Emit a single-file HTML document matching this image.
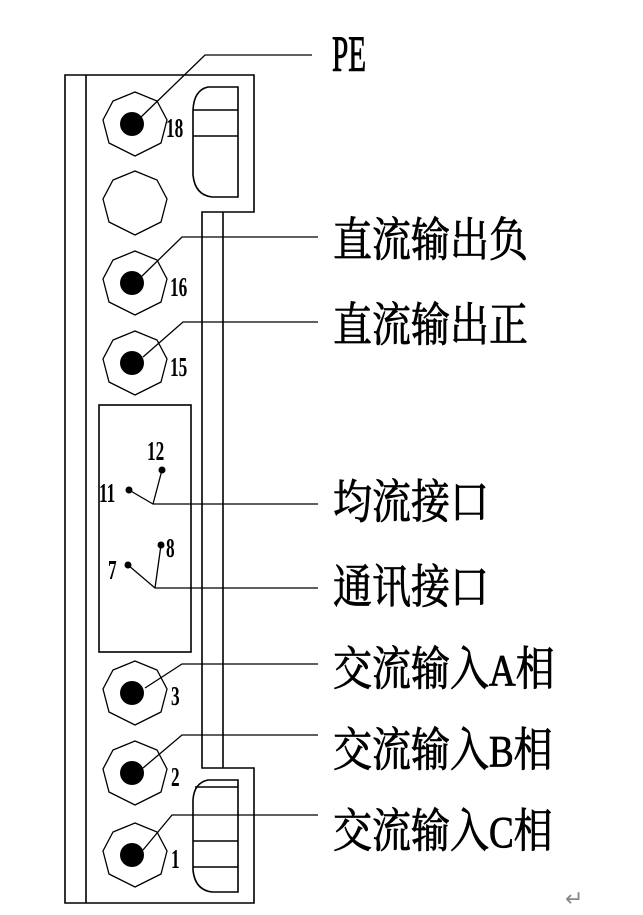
<!DOCTYPE html>
<html><head><meta charset="utf-8"><style>html,body{margin:0;padding:0;background:#fff}svg{display:block}</style></head>
<body>
<svg width="643" height="915" viewBox="0 0 643 915" xmlns="http://www.w3.org/2000/svg">
<g fill="none" stroke="#000" stroke-width="1.6">
<polygon points="65,75 254,75 254,212 202,212 202,768 254,768 254,903 65,903"/>
<line x1="86" y1="75" x2="86" y2="903"/>
<line x1="223" y1="212" x2="223" y2="768"/>
<rect x="99" y="405" width="92" height="247"/>
<path d="M238,87 H208 Q194,90 193,110 V175 Q195,195 212,197 H238 Z"/>
<line x1="193" y1="110" x2="238" y2="110"/>
<line x1="193" y1="136" x2="238" y2="136"/>
<path d="M238,780 H208 Q194,783 193,800 V870 Q195,890 212,892 H238 Z"/>
<line x1="195" y1="787" x2="238" y2="787"/>
<line x1="193" y1="841" x2="238" y2="841"/>
<line x1="193" y1="867" x2="238" y2="867"/>
</g>
<g fill="none" stroke="#000" stroke-width="1.3">
<polygon points="135,92 157,101 167,120 161,143 135,156 109,143 103,120 113,101"/>
<polygon points="135,92 157,101 167,120 161,143 135,156 109,143 103,120 113,101" transform="translate(0,79)"/>
<polygon points="135,92 157,101 167,120 161,143 135,156 109,143 103,120 113,101" transform="translate(0,159)"/>
<polygon points="135,92 157,101 167,120 161,143 135,156 109,143 103,120 113,101" transform="translate(0,239)"/>
<polygon points="135,92 157,101 167,120 161,143 135,156 109,143 103,120 113,101" transform="translate(0,569)"/>
<polygon points="135,92 157,101 167,120 161,143 135,156 109,143 103,120 113,101" transform="translate(0,649)"/>
<polygon points="135,92 157,101 167,120 161,143 135,156 109,143 103,120 113,101" transform="translate(0,731)"/>
<polyline points="140,118 205,55 312,55"/>
<polyline points="140,278 182,237 318,237"/>
<polyline points="143,357 183,322 318,322"/>
<polyline points="145,688 182,664 318,664"/>
<polyline points="143,768 182,735 318,735"/>
<polyline points="143,850 172,815 318,815"/>
<polyline points="129,490 153,504 318,504"/>
<line x1="162" y1="470" x2="153" y2="504"/>
<polyline points="128,565 155,588 318,588"/>
<line x1="161" y1="545" x2="155" y2="588"/>
</g>
<g fill="#000">
<circle cx="132" cy="124" r="12"/>
<circle cx="132" cy="283" r="12"/>
<circle cx="132" cy="363" r="12"/>
<circle cx="132" cy="693" r="12"/>
<circle cx="132" cy="773" r="12"/>
<circle cx="132" cy="855" r="12"/>
<circle cx="162" cy="470" r="3.5"/>
<circle cx="129" cy="490" r="3.5"/>
<circle cx="161" cy="545" r="3.5"/>
<circle cx="128" cy="565" r="3.5"/>
</g>
<g font-family="Liberation Serif, serif" font-size="24" fill="#000" font-weight="bold">
<text transform="translate(166,137) scale(0.72,1.15)">18</text>
<text transform="translate(170,296) scale(0.72,1.15)">16</text>
<text transform="translate(170,376) scale(0.72,1.15)">15</text>
<text transform="translate(147,460) scale(0.72,1.15)">12</text>
<text transform="translate(99,502) scale(0.72,1.15)">11</text>
<text transform="translate(166,557) scale(0.72,1.15)">8</text>
<text transform="translate(108,579) scale(0.72,1.15)">7</text>
<text transform="translate(171,705) scale(0.72,1.15)">3</text>
<text transform="translate(171,786) scale(0.72,1.15)">2</text>
<text transform="translate(171,868) scale(0.72,1.15)">1</text>
</g>
<g font-family="Liberation Serif, 'Noto Serif CJK SC', serif" font-size="39" fill="#000" stroke="#000" stroke-width="0.7">
<text transform="translate(332,71) scale(0.75,1.3)">PE</text>
<text transform="translate(333,256) scale(1,1.2)">直流输出负</text>
<text transform="translate(333,341) scale(1,1.2)">直流输出正</text>
<text transform="translate(333,518) scale(1,1.2)">均流接口</text>
<text transform="translate(333,603) scale(1,1.2)">通讯接口</text>
<text transform="translate(333,685) scale(1,1.2)">交流输入<tspan font-size="37">A</tspan>相</text>
<text transform="translate(333,766) scale(1,1.2)">交流输入<tspan font-size="37">B</tspan>相</text>
<text transform="translate(333,847) scale(1,1.2)">交流输入<tspan font-size="37">C</tspan>相</text>
</g>
<text x="565" y="906" font-family="DejaVu Sans, sans-serif" font-size="22" fill="#888">↵</text>
</svg>
</body></html>
